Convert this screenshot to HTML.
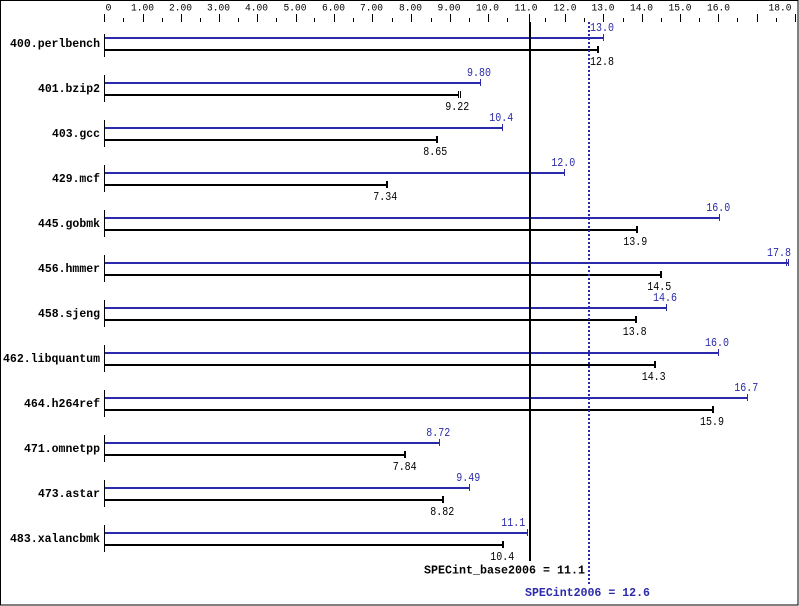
<!DOCTYPE html>
<html><head><meta charset="utf-8"><style>
html,body{margin:0;padding:0;background:#fff;}
svg{display:block;}
text{font-family:"Liberation Mono","DejaVu Sans Mono",monospace;}
.t{font-size:10px;fill:#000;}
.v{font-size:11.5px;}
.b{font-size:11.5px;font-weight:bold;fill:#000;}
.bl{fill:#2a2aaa;}
.k{fill:#000;}
</style></head><body>
<svg width="799" height="606" viewBox="0 0 799 606" xmlns="http://www.w3.org/2000/svg" shape-rendering="crispEdges">
<rect x="0" y="0" width="799" height="606" fill="#fff"/>
<rect x="0.5" y="0.5" width="797.5" height="604.5" fill="none" stroke="#000" stroke-width="1"/>

<!-- ticks -->
<g fill="#000">
<rect x="104" y="14" width="1" height="8"/><rect x="123" y="18" width="1" height="4"/>
<rect x="143" y="14" width="1" height="8"/><rect x="162" y="18" width="1" height="4"/>
<rect x="181" y="14" width="1" height="8"/><rect x="200" y="18" width="1" height="4"/>
<rect x="219" y="14" width="1" height="8"/><rect x="238" y="18" width="1" height="4"/>
<rect x="257" y="14" width="1" height="8"/><rect x="276" y="18" width="1" height="4"/>
<rect x="296" y="14" width="1" height="8"/><rect x="314" y="18" width="1" height="4"/>
<rect x="334" y="14" width="1" height="8"/><rect x="353" y="18" width="1" height="4"/>
<rect x="372" y="14" width="1" height="8"/><rect x="392" y="18" width="1" height="4"/>
<rect x="411" y="14" width="1" height="8"/><rect x="431" y="18" width="1" height="4"/>
<rect x="450" y="14" width="1" height="8"/><rect x="469" y="18" width="1" height="4"/>
<rect x="488" y="14" width="1" height="8"/><rect x="507" y="18" width="1" height="4"/>
<rect x="529" y="14" width="1" height="8"/><rect x="545" y="18" width="1" height="4"/>
<rect x="565" y="14" width="1" height="8"/><rect x="584" y="18" width="1" height="4"/>
<rect x="603" y="14" width="1" height="8"/><rect x="623" y="18" width="1" height="4"/>
<rect x="642" y="14" width="1" height="8"/><rect x="661" y="18" width="1" height="4"/>
<rect x="680" y="14" width="1" height="8"/><rect x="699" y="18" width="1" height="4"/>
<rect x="718" y="14" width="1" height="8"/><rect x="737" y="18" width="1" height="4"/>
<rect x="757" y="14" width="1" height="8"/><rect x="776" y="18" width="1" height="4"/>
<rect x="795" y="14" width="1" height="8"/>
</g>

<!-- tick labels -->
<g class="t" text-anchor="middle">
<text x="108.5" y="10.5">0</text>
<text x="142.5" y="10.5" textLength="23" lengthAdjust="spacingAndGlyphs">1.00</text>
<text x="180.5" y="10.5" textLength="23" lengthAdjust="spacingAndGlyphs">2.00</text>
<text x="218.5" y="10.5" textLength="23" lengthAdjust="spacingAndGlyphs">3.00</text>
<text x="256.5" y="10.5" textLength="23" lengthAdjust="spacingAndGlyphs">4.00</text>
<text x="295" y="10.5" textLength="23" lengthAdjust="spacingAndGlyphs">5.00</text>
<text x="333.5" y="10.5" textLength="23" lengthAdjust="spacingAndGlyphs">6.00</text>
<text x="371.5" y="10.5" textLength="23" lengthAdjust="spacingAndGlyphs">7.00</text>
<text x="410.5" y="10.5" textLength="23" lengthAdjust="spacingAndGlyphs">8.00</text>
<text x="449" y="10.5" textLength="23" lengthAdjust="spacingAndGlyphs">9.00</text>
<text x="487.5" y="10.5" textLength="23" lengthAdjust="spacingAndGlyphs">10.0</text>
<text x="526" y="10.5" textLength="23" lengthAdjust="spacingAndGlyphs">11.0</text>
<text x="565" y="10.5" textLength="23" lengthAdjust="spacingAndGlyphs">12.0</text>
<text x="603" y="10.5" textLength="23" lengthAdjust="spacingAndGlyphs">13.0</text>
<text x="641.5" y="10.5" textLength="23" lengthAdjust="spacingAndGlyphs">14.0</text>
<text x="680" y="10.5" textLength="23" lengthAdjust="spacingAndGlyphs">15.0</text>
<text x="718.5" y="10.5" textLength="23" lengthAdjust="spacingAndGlyphs">16.0</text>
<text x="780" y="10.5" textLength="23" lengthAdjust="spacingAndGlyphs">18.0</text>
</g>

<!-- left axis segments -->
<g fill="#000">
<rect x="104" y="34" width="1" height="23"/>
<rect x="104" y="75" width="1" height="27"/>
<rect x="104" y="120" width="1" height="27"/>
<rect x="104" y="165" width="1" height="27"/>
<rect x="104" y="210" width="1" height="27"/>
<rect x="104" y="255" width="1" height="27"/>
<rect x="104" y="300" width="1" height="27"/>
<rect x="104" y="345" width="1" height="27"/>
<rect x="104" y="390" width="1" height="27"/>
<rect x="104" y="435" width="1" height="27"/>
<rect x="104" y="480" width="1" height="27"/>
<rect x="104" y="525" width="1" height="27"/>
</g>

<!-- benchmark names -->
<g class="b" text-anchor="end">
<text x="100" y="47" textLength="90" lengthAdjust="spacingAndGlyphs">400.perlbench</text>
<text x="100" y="92" textLength="62" lengthAdjust="spacingAndGlyphs">401.bzip2</text>
<text x="100" y="137" textLength="48" lengthAdjust="spacingAndGlyphs">403.gcc</text>
<text x="100" y="182" textLength="48" lengthAdjust="spacingAndGlyphs">429.mcf</text>
<text x="100" y="227" textLength="62" lengthAdjust="spacingAndGlyphs">445.gobmk</text>
<text x="100" y="272" textLength="62" lengthAdjust="spacingAndGlyphs">456.hmmer</text>
<text x="100" y="317" textLength="62" lengthAdjust="spacingAndGlyphs">458.sjeng</text>
<text x="100" y="362" textLength="97" lengthAdjust="spacingAndGlyphs">462.libquantum</text>
<text x="100" y="407" textLength="76" lengthAdjust="spacingAndGlyphs">464.h264ref</text>
<text x="100" y="452" textLength="76" lengthAdjust="spacingAndGlyphs">471.omnetpp</text>
<text x="100" y="497" textLength="62" lengthAdjust="spacingAndGlyphs">473.astar</text>
<text x="100" y="542" textLength="90" lengthAdjust="spacingAndGlyphs">483.xalancbmk</text>
</g>

<!-- blue (peak) bars -->
<g class="bl">
<rect x="105" y="37" width="498" height="2"/><rect x="603" y="34" width="1" height="7"/>
<rect x="105" y="82" width="375" height="2"/><rect x="480" y="79" width="1" height="7"/>
<rect x="105" y="127" width="397" height="2"/><rect x="502" y="124" width="1" height="7"/>
<rect x="105" y="172" width="459" height="2"/><rect x="564" y="169" width="1" height="7"/>
<rect x="105" y="217" width="614" height="2"/><rect x="719" y="214" width="1" height="7"/>
<rect x="105" y="262" width="683" height="2"/><rect x="786" y="259" width="1" height="7"/><rect x="788" y="259" width="1" height="7"/>
<rect x="105" y="307" width="561" height="2"/><rect x="666" y="304" width="1" height="7"/>
<rect x="105" y="352" width="613" height="2"/><rect x="718" y="349" width="1" height="7"/>
<rect x="105" y="397" width="642" height="2"/><rect x="747" y="394" width="1" height="7"/>
<rect x="105" y="442" width="334" height="2"/><rect x="439" y="439" width="1" height="7"/>
<rect x="105" y="487" width="364" height="2"/><rect x="469" y="484" width="1" height="7"/>
<rect x="105" y="532" width="422" height="2"/><rect x="527" y="529" width="1" height="7"/>
</g>

<!-- black (base) bars -->
<g class="k">
<rect x="105" y="49" width="492" height="2"/><rect x="597" y="46" width="2" height="7"/>
<rect x="105" y="94" width="353" height="2"/><rect x="458" y="91" width="1" height="7"/><rect x="460" y="91" width="1" height="7"/>
<rect x="105" y="139" width="331" height="2"/><rect x="436" y="136" width="2" height="7"/>
<rect x="105" y="184" width="281" height="2"/><rect x="386" y="181" width="2" height="7"/>
<rect x="105" y="229" width="531" height="2"/><rect x="636" y="226" width="2" height="7"/>
<rect x="105" y="274" width="555" height="2"/><rect x="660" y="271" width="2" height="7"/>
<rect x="105" y="319" width="530" height="2"/><rect x="635" y="316" width="2" height="7"/>
<rect x="105" y="364" width="550" height="2"/><rect x="654" y="361" width="2" height="7"/>
<rect x="105" y="409" width="608" height="2"/><rect x="712" y="406" width="2" height="7"/>
<rect x="105" y="454" width="300" height="2"/><rect x="404" y="451" width="2" height="7"/>
<rect x="105" y="499" width="338" height="2"/><rect x="442" y="496" width="2" height="7"/>
<rect x="105" y="544" width="398" height="2"/><rect x="502" y="541" width="2" height="7"/>
</g>

<!-- blue value labels -->
<g class="v bl" text-anchor="middle">
<text x="602" y="31" textLength="24" lengthAdjust="spacingAndGlyphs">13.0</text>
<text x="479" y="76" textLength="24" lengthAdjust="spacingAndGlyphs">9.80</text>
<text x="501.3" y="121" textLength="24" lengthAdjust="spacingAndGlyphs">10.4</text>
<text x="563.3" y="166" textLength="24" lengthAdjust="spacingAndGlyphs">12.0</text>
<text x="718.3" y="211" textLength="24" lengthAdjust="spacingAndGlyphs">16.0</text>
<text x="779" y="256" textLength="24" lengthAdjust="spacingAndGlyphs">17.8</text>
<text x="665" y="301" textLength="24" lengthAdjust="spacingAndGlyphs">14.6</text>
<text x="717" y="346" textLength="24" lengthAdjust="spacingAndGlyphs">16.0</text>
<text x="746.3" y="391" textLength="24" lengthAdjust="spacingAndGlyphs">16.7</text>
<text x="438.3" y="436" textLength="24" lengthAdjust="spacingAndGlyphs">8.72</text>
<text x="468.3" y="481" textLength="24" lengthAdjust="spacingAndGlyphs">9.49</text>
<text x="513.3" y="526" textLength="24" lengthAdjust="spacingAndGlyphs">11.1</text>
</g>

<!-- black value labels -->
<g class="v k" text-anchor="middle">
<text x="602" y="65" textLength="24" lengthAdjust="spacingAndGlyphs">12.8</text>
<text x="457.3" y="110" textLength="24" lengthAdjust="spacingAndGlyphs">9.22</text>
<text x="435.3" y="155" textLength="24" lengthAdjust="spacingAndGlyphs">8.65</text>
<text x="385.3" y="200" textLength="24" lengthAdjust="spacingAndGlyphs">7.34</text>
<text x="635.3" y="245" textLength="24" lengthAdjust="spacingAndGlyphs">13.9</text>
<text x="659.3" y="290" textLength="24" lengthAdjust="spacingAndGlyphs">14.5</text>
<text x="634.7" y="335" textLength="24" lengthAdjust="spacingAndGlyphs">13.8</text>
<text x="653.7" y="380" textLength="24" lengthAdjust="spacingAndGlyphs">14.3</text>
<text x="712" y="425" textLength="24" lengthAdjust="spacingAndGlyphs">15.9</text>
<text x="404.7" y="470" textLength="24" lengthAdjust="spacingAndGlyphs">7.84</text>
<text x="442.3" y="515" textLength="24" lengthAdjust="spacingAndGlyphs">8.82</text>
<text x="502.3" y="560" textLength="24" lengthAdjust="spacingAndGlyphs">10.4</text>
</g>

<!-- base reference line -->
<rect x="529" y="22" width="2" height="539" fill="#000"/>
<!-- peak dotted line -->
<line x1="589" y1="22" x2="589" y2="584" stroke="#2a2aaa" stroke-width="2" stroke-dasharray="2 2"/>

<!-- summary -->
<text class="b" x="424" y="573.5" textLength="161" lengthAdjust="spacingAndGlyphs">SPECint_base2006 = 11.1</text>
<text class="b bl" x="525" y="596" textLength="125" lengthAdjust="spacingAndGlyphs" style="fill:#2a2aaa">SPECint2006 = 12.6</text>
</svg>
</body></html>
